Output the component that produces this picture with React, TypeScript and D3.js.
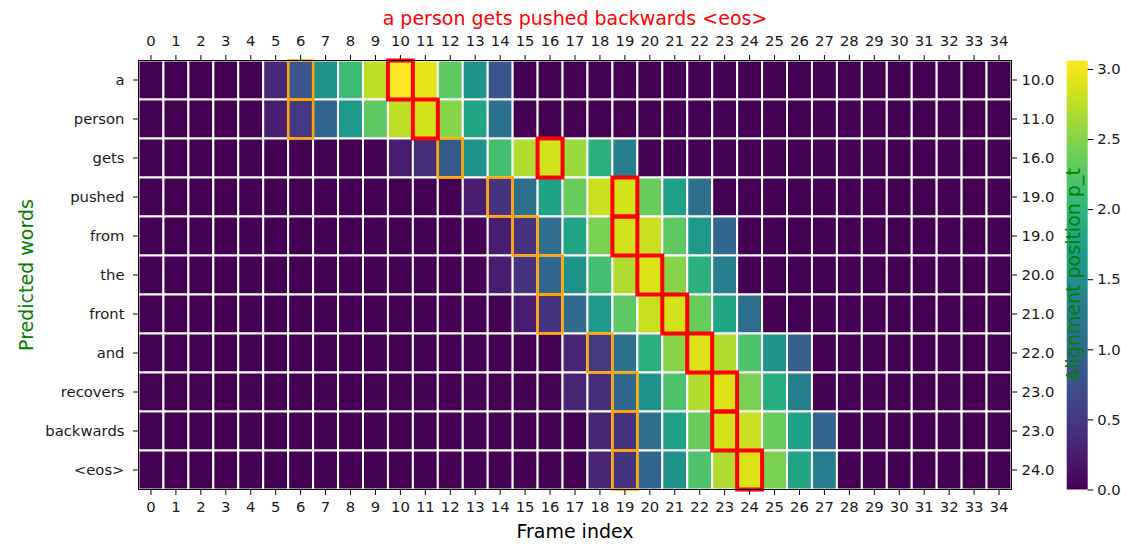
import * as d3 from "d3";
import { useEffect, useRef } from "react";

// predicted words (rows) and frame indices (columns)
const words = ["a", "person", "gets", "pushed", "from", "the", "front", "and", "recovers", "backwards", "<eos>"];
const frames = d3.range(0, 35);
// alignment position p_t per word (right axis + red box)
const alignPos = [10, 11, 16, 19, 19, 20, 21, 22, 23, 23, 24];
// orange highlighted frame per word
const centerCols = [6, 6, 12, 14, 15, 16, 16, 18, 19, 19, 19];
// first non-zero frame per word, then the non-zero values from that frame on
const rowStart = [5, 5, 10, 13, 14, 14, 15, 17, 17, 18, 18];
const rowValues = [
  [0.35, 0.8, 1.55, 2.1, 2.75, 3.06, 2.95, 2.3, 1.55, 0.8],
  [0.25, 0.5, 1.0, 1.65, 2.3, 2.75, 2.85, 2.5, 1.8, 1.15],
  [0.25, 0.4, 0.85, 1.55, 2.15, 2.7, 2.85, 2.6, 1.95, 1.3],
  [0.25, 0.45, 1.1, 1.75, 2.35, 2.8, 2.85, 2.35, 1.75, 1.1],
  [0.25, 0.45, 1.1, 1.8, 2.45, 2.85, 2.8, 2.3, 1.65, 1.0],
  [0.25, 0.45, 1.0, 1.55, 2.15, 2.7, 2.9, 2.5, 1.95, 1.3],
  [0.25, 0.45, 1.05, 1.65, 2.3, 2.8, 2.85, 2.35, 1.8, 1.1],
  [0.3, 0.5, 1.15, 1.95, 2.5, 2.9, 2.7, 2.2, 1.55, 0.9],
  [0.3, 0.4, 1.0, 1.55, 2.2, 2.7, 2.9, 2.45, 1.9, 1.3],
  [0.3, 0.45, 1.1, 1.75, 2.35, 2.85, 2.8, 2.35, 1.75, 1.0],
  [0.3, 0.45, 1.0, 1.55, 2.2, 2.7, 2.9, 2.45, 1.8, 1.3],
];
const cbarTicks = [0, 0.5, 1.0, 1.5, 2.0, 2.5, 3.0];
const vmax = 3.06;

const title = "a person gets pushed backwards <eos>";

export default function App() {
  const ref = useRef<HTMLDivElement | null>(null);

  useEffect(() => {
    if (!ref.current) return;
    ref.current.innerHTML = "";

    const width = 1121;
    const height = 544;
    const font = "DejaVu Sans, sans-serif";
    const left = 138.5;
    const right = 1011.5;
    const top = 60.5;
    const bottom = 489.5;
    const midX = (left + right) / 2;
    const midY = (top + bottom) / 2;

    const cells: { r: number; c: number; v: number }[] = [];
    words.forEach((_, r) => {
      frames.forEach((c) => {
        const k = c - rowStart[r];
        const v = k >= 0 && k < rowValues[r].length ? rowValues[r][k] : 0;
        cells.push({ r, c, v });
      });
    });

    const x = d3.scaleBand<number>().domain(frames).range([left, right]);
    const y = d3.scaleBand<number>().domain(d3.range(words.length)).range([top, bottom]);
    const color = d3.scaleSequential(d3.interpolateViridis).domain([0, vmax]);

    const svg = d3
      .select(ref.current)
      .append("svg")
      .attr("width", width)
      .attr("height", height)
      .style("position", "absolute")
      .style("left", 0)
      .style("top", 0)
      .style("font-family", font);

    svg.append("rect").attr("width", width).attr("height", height).attr("fill", "#fff");

    // heatmap cells
    svg
      .append("g")
      .selectAll("rect")
      .data(cells)
      .join("rect")
      .attr("x", (d) => x(d.c)!)
      .attr("y", (d) => y(d.r)!)
      .attr("width", x.bandwidth())
      .attr("height", y.bandwidth())
      .attr("fill", (d) => color(d.v))
      .attr("stroke", "#fff")
      .attr("stroke-width", 2);

    // orange boxes
    svg
      .append("g")
      .selectAll("rect")
      .data(centerCols)
      .join("rect")
      .attr("x", (c) => x(c)!)
      .attr("y", (_, i) => y(i)!)
      .attr("width", x.bandwidth())
      .attr("height", y.bandwidth())
      .attr("fill", "none")
      .attr("stroke", "orange")
      .attr("stroke-width", 2.5);

    // red boxes
    svg
      .append("g")
      .selectAll("rect")
      .data(alignPos)
      .join("rect")
      .attr("x", (c) => x(c)!)
      .attr("y", (_, i) => y(i)!)
      .attr("width", x.bandwidth())
      .attr("height", y.bandwidth())
      .attr("fill", "none")
      .attr("stroke", "red")
      .attr("stroke-width", 4);

    // frame
    svg
      .append("rect")
      .attr("x", left)
      .attr("y", top)
      .attr("width", right - left)
      .attr("height", bottom - top)
      .attr("fill", "none")
      .attr("stroke", "#000")
      .attr("stroke-width", 1);

    const styleAxis = (g: d3.Selection<SVGGElement, unknown, null, undefined>) => {
      g.select(".domain").remove();
      g.selectAll("text").style("font-size", "14.8px").style("font-family", font).attr("fill", "#1a1a1a");
      g.selectAll("line").attr("stroke", "#000");
    };

    svg
      .append("g")
      .attr("transform", `translate(0,${top})`)
      .call(d3.axisTop(x).tickSize(5.5).tickPadding(9))
      .call(styleAxis);
    svg
      .append("g")
      .attr("transform", `translate(0,${bottom})`)
      .call(d3.axisBottom(x).tickSize(5.5).tickPadding(6))
      .call(styleAxis);
    svg
      .append("g")
      .attr("transform", `translate(${left},0)`)
      .call(d3.axisLeft(y).tickSize(5.5).tickPadding(8.5).tickFormat((i) => words[i as number]))
      .call(styleAxis);
    svg
      .append("g")
      .attr("transform", `translate(${right},0)`)
      .call(d3.axisRight(y).tickSize(5.5).tickPadding(4.5).tickFormat((i) => alignPos[i as number].toFixed(1)))
      .call(styleAxis);

    // title and axis labels
    svg
      .append("text")
      .attr("x", midX)
      .attr("y", 25)
      .attr("text-anchor", "middle")
      .attr("fill", "red")
      .style("font-size", "19px")
      .text(title);
    svg
      .append("text")
      .attr("x", midX)
      .attr("y", 537.5)
      .attr("text-anchor", "middle")
      .attr("fill", "#000")
      .style("font-size", "19px")
      .text("Frame index");
    svg
      .append("text")
      .attr("transform", `translate(33,${midY}) rotate(-90)`)
      .attr("text-anchor", "middle")
      .attr("fill", "green")
      .style("font-size", "19px")
      .text("Predicted words");

    // colorbar
    const cb = { x: 1066.7, w: 21 };
    const cy = d3.scaleLinear().domain([0, vmax]).range([bottom, top]);
    const defs = svg.append("defs");
    const grad = defs
      .append("linearGradient")
      .attr("id", "viridis")
      .attr("x1", 0)
      .attr("y1", 1)
      .attr("x2", 0)
      .attr("y2", 0);
    d3.range(0, 1.0001, 0.05).forEach((t) => {
      grad.append("stop").attr("offset", t).attr("stop-color", d3.interpolateViridis(t));
    });
    svg
      .append("rect")
      .attr("x", cb.x)
      .attr("y", top)
      .attr("width", cb.w)
      .attr("height", bottom - top)
      .attr("fill", "url(#viridis)");
    svg
      .append("g")
      .attr("transform", `translate(${cb.x + cb.w},0)`)
      .call(d3.axisRight(cy).tickValues(cbarTicks).tickSize(5.5).tickPadding(4).tickFormat(d3.format(".1f")))
      .call(styleAxis);
    svg
      .append("text")
      .attr("transform", `translate(1080,${midY}) rotate(-90)`)
      .attr("text-anchor", "middle")
      .attr("fill", "green")
      .style("font-size", "19px")
      .text("Alignment position p_t");
  }, []);

  return <div ref={ref} />;
}
